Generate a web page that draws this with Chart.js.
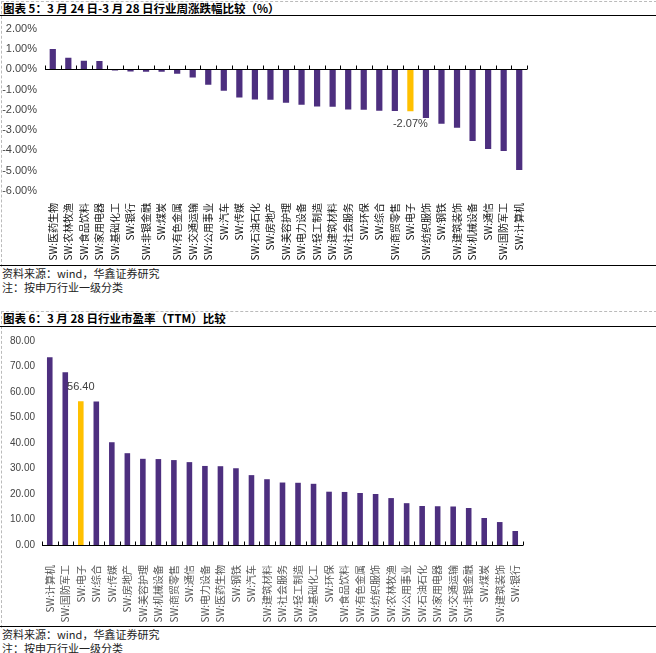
<!DOCTYPE html>
<html>
<head>
<meta charset="utf-8">
<script src="https://cdn.jsdelivr.net/npm/chart.js@4.4.0/dist/chart.umd.min.js"></script>
<style>
  body { margin: 0; background: #fff; width: 656px; height: 653px; position: relative; overflow: hidden; font-family: "Noto Sans CJK SC", sans-serif; }
  .title { position: absolute; left: 3px; font-size: 11.5px; font-weight: 700; color: #000; line-height: 14px; white-space: nowrap; }
  .rule { position: absolute; left: 0; width: 656px; height: 0; border-top: 1.5px solid #000; }
  .frame { position: absolute; left: 1px; border-left: 1px dashed #bbb; border-top: 1px dashed #bbb; width: 655px; }
  .note { position: absolute; left: 2px; font-size: 11px; color: #222; line-height: 13px; white-space: nowrap; }
  canvas { position: absolute; left: 0; }
</style>
</head>
<body>
<div class="frame" style="top:1px;height:265px;"></div>
<div class="title" style="top:1px;">图表 5：3 月 24 日-3 月 28 日行业周涨跌幅比较（%）</div>
<div class="rule" style="top:15px;"></div>
<div style="position:absolute;left:0;top:14px;width:656px;height:251px;"><canvas id="weekly"></canvas></div>
<div class="rule" style="top:265px;"></div>
<div class="note" style="top:267px;">资料来源：wind，华鑫证券研究</div>
<div class="note" style="top:281px;">注：按申万行业一级分类</div>

<div class="frame" style="top:311px;height:316px;"></div>
<div class="title" style="top:311px;">图表 6：3 月 28 日行业市盈率（TTM）比较</div>
<div class="rule" style="top:326px;"></div>
<div style="position:absolute;left:0;top:328px;width:656px;height:298px;"><canvas id="pe"></canvas></div>
<div class="rule" style="top:626px;"></div>
<div class="note" style="top:628px;">资料来源：wind，华鑫证券研究</div>
<div class="note" style="top:642px;">注：按申万行业一级分类</div>

<script>
const weeklyLabels = ["SW:医药生物", "SW:农林牧渔", "SW:食品饮料", "SW:家用电器", "SW:基础化工", "SW:银行", "SW:非银金融", "SW:煤炭",
    "SW:有色金属", "SW:交通运输", "SW:公用事业", "SW:汽车", "SW:传媒", "SW:石油石化", "SW:房地产", "SW:美容护理", "SW:电力设备",
    "SW:轻工制造", "SW:建筑材料", "SW:社会服务", "SW:环保", "SW:综合", "SW:商贸零售", "SW:电子", "SW:纺织服饰", "SW:钢铁",
    "SW:建筑装饰", "SW:机械设备", "SW:通信", "SW:国防军工", "SW:计算机"];
const weeklyValues = [1.00, 0.56, 0.42, 0.41, -0.07, -0.11, -0.12, -0.12, -0.22, -0.41, -0.76, -1.06, -1.40, -1.49, -1.50, -1.65,
    -1.75, -1.84, -1.85, -1.99, -2.00, -2.05, -2.06, -2.07, -2.40, -2.69, -2.89, -3.54, -3.93, -4.03, -4.97];

const peLabels = ["SW:计算机", "SW:国防军工", "SW:电子", "SW:综合", "SW:传媒", "SW:房地产", "SW:美容护理", "SW:机械设备", "SW:商贸零售",
    "SW:通信", "SW:电力设备", "SW:医药生物", "SW:钢铁", "SW:汽车", "SW:建筑材料", "SW:社会服务", "SW:轻工制造", "SW:基础化工",
    "SW:环保", "SW:食品饮料", "SW:有色金属", "SW:纺织服饰", "SW:农林牧渔", "SW:公用事业", "SW:石油石化", "SW:家用电器",
    "SW:交通运输", "SW:非银金融", "SW:煤炭", "SW:建筑装饰", "SW:银行"];
const peValues = [73.6, 67.7, 56.40, 56.3, 40.3, 36.0, 33.8, 33.7, 33.3, 32.5, 31.0, 30.9, 30.1, 27.4, 25.8, 24.5, 24.4, 24.0,
    20.9, 20.8, 20.4, 20.0, 18.4, 16.4, 15.3, 15.2, 15.1, 14.5, 10.6, 9.0, 5.5];

const highlightLabel = "SW:电子";
const purple = '#4d2f7f';
const yellow = '#ffc000';

// zero line with small upward tick marks between categories
const zeroAxis = {
    id: 'zeroAxis',
    afterDatasetsDraw(chart) {
        const ctx = chart.ctx;
        const x = chart.scales.x;
        const y0 = Math.round(chart.scales.y.getPixelForValue(0)) + 0.5;
        const n = chart.data.labels.length;
        ctx.save();
        ctx.strokeStyle = '#000';
        ctx.lineWidth = 1;
        ctx.beginPath();
        ctx.moveTo(x.left, y0);
        ctx.lineTo(x.right, y0);
        for (let i = 0; i <= n; i++) {
            const px = Math.round(x.left + i * x.width / n) + 0.5;
            ctx.moveTo(px, y0);
            ctx.lineTo(px, y0 - 4);
        }
        ctx.stroke();
        ctx.restore();
    }
};

// value label on the highlighted bar
const highlightLabelPlugin = {
    id: 'highlightLabel',
    afterDatasetsDraw(chart, args, opts) {
        const idx = chart.data.labels.indexOf(highlightLabel);
        const bar = chart.getDatasetMeta(0).data[idx];
        const value = chart.data.datasets[0].data[idx];
        const ctx = chart.ctx;
        ctx.save();
        ctx.font = opts.font;
        ctx.fillStyle = '#404040';
        ctx.textAlign = 'center';
        ctx.textBaseline = 'middle';
        ctx.fillText(opts.format(value), bar.x + (opts.dx || 0), bar.y + opts.dy);
        ctx.restore();
    }
};

const makeChart = function (id, labels, values, cfg) {
    return new Chart(document.getElementById(id), {
        type: 'bar',
        data: {
            labels: labels,
            datasets: [{
                data: values,
                backgroundColor: labels.map(l => l === highlightLabel ? yellow : purple),
                barPercentage: cfg.barPct,
                categoryPercentage: 1
            }]
        },
        options: {
            responsive: true,
            maintainAspectRatio: false,
            animation: false,
            layout: { padding: cfg.padding },
            scales: {
                x: {
                    grid: { display: false },
                    border: { display: false },
                    afterFit: (scale) => { scale.height = cfg.xHeight; },
                    ticks: {
                        autoSkip: false,
                        minRotation: 90,
                        maxRotation: 90,
                        padding: cfg.labelPad,
                        color: cfg.labelColor,
                        font: { family: '"Noto Sans CJK SC"', size: 10 }
                    }
                },
                y: {
                    min: cfg.min,
                    max: cfg.max,
                    grid: { display: false, drawTicks: false },
                    border: { display: false },
                    afterFit: (scale) => { scale.width = cfg.yWidth; },
                    ticks: {
                        stepSize: cfg.step,
                        padding: cfg.yPad,
                        color: '#444',
                        font: { family: '"Liberation Sans"', size: cfg.yFont },
                        callback: cfg.yFormat
                    }
                }
            },
            plugins: {
                legend: { display: false },
                tooltip: { enabled: false },
                highlightLabel: cfg.hl
            }
        },
        plugins: [zeroAxis, highlightLabelPlugin]
    });
}

makeChart('weekly', weeklyLabels, weeklyValues, {
    barPct: 0.4,
    padding: { top: 7, right: 129, bottom: 0, left: 0 },
    xHeight: 74,
    labelPad: 4,
    labelColor: '#111',
    min: -6, max: 2, step: 1,
    yWidth: 45, yPad: 8, yFont: 11,
    yFormat: (v) => v.toFixed(2) + '%',
    hl: { font: '11px "Liberation Sans"', dy: 13, format: (v) => v.toFixed(2) + '%' }
});

makeChart('pe', peLabels, peValues, {
    barPct: 0.36,
    padding: { top: 13, right: 133, bottom: 0, left: 0 },
    xHeight: 81,
    labelPad: 12,
    labelColor: '#555',
    min: 0, max: 80, step: 10,
    yWidth: 42, yPad: 7, yFont: 10,
    yFormat: (v) => v.toFixed(2),
    hl: { font: '11px "Liberation Sans"', dy: -14, dx: 0, format: (v) => v.toFixed(2) }
});
</script>
</body>
</html>
